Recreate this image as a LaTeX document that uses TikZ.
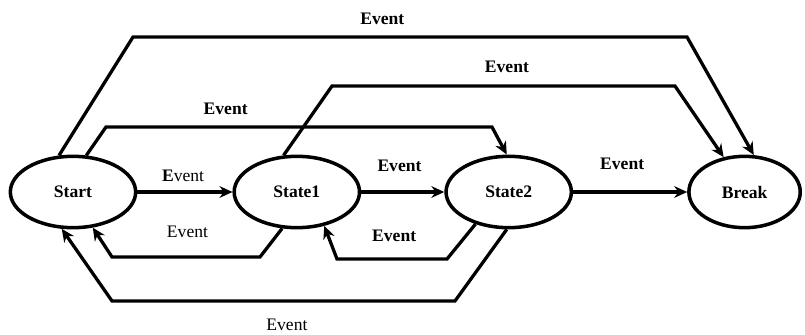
\documentclass[tikz,border=0pt]{standalone}
\usepackage{fontspec}
\setmainfont{Liberation Serif}
\usetikzlibrary{positioning,shapes.geometric,arrows.meta}

\begin{document}
\begin{tikzpicture}[x=0.03cm, y=-0.03cm,
    node distance = 2.85cm,
       arr/.style = {line width=2.8pt, -{Stealth[length=11pt, width=10pt]}},
        st/.style = {ellipse, draw, line width=3pt, inner sep=0pt,
                     minimum width=3.76cm, minimum height=2.14cm,
                     font=\fontsize{15}{18}\selectfont\bfseries},
       lbl/.style = {font=\fontsize{15}{18}\selectfont\bfseries, inner sep=0pt},
      lblr/.style = {font=\fontsize{15}{18}\selectfont, inner sep=0pt},
                    ]
    \useasboundingbox (0,0) rectangle (805,335);
    %% states
    \node[st] (Start) at (73,192) {Start};
    \node[st, right=2.85cm of Start] (S1) {State1};
    \node[st, right=2.49cm of S1] (S2) {State2};
    \node[st, minimum width=3.34cm, right=3.42cm of S2] (Brk) {Break};
    %% arrows (straight)
    \draw[arr] (Start.east) -- node[lblr, above=7.7pt, pos=0.48] (e1) {\textbf{E}vent} (S1.west);
    \draw[arr] (S1.east) -- node[lbl, above=16pt, pos=0.46] (e2) {Event} (S2.west);
    \draw[arr] (S2.east) -- node[lbl, above=18pt, pos=0.43] (e3) {Event} (Brk.west);
    %% arrows (over the top)
    \draw[arr] (Start.111) -- (133,37)
        -- node[lbl, above=9.4pt, pos=0.45] (e4) {Event} (687,37) -- (Brk.76);
    \draw[arr] (S1.110) -- (332,86)
        -- node[lbl, above=10.2pt, pos=0.51] (e5) {Event} (675,86) -- (Brk.121);
    \draw[arr] (Start.70) -- (106,127)
        -- node[lbl, above=9.4pt, pos=0.31] (e6) {Event} (492,127) -- (S2.93);
    %% arrows (back, underneath)
    \draw[arr] (S1.248) -- (260,257)
        -- node[lblr, above=15pt, pos=0.49] (e7) {Event} (112,257) -- (Start.299);
    \draw[arr] (S2.224) -- (447,259)
        -- node[lbl, above=13pt, pos=0.48] (e8) {Event} (337,259) -- (S1.309);
    \draw[arr] (S2.267) -- (455,301)
        -- node[lblr, below=14pt, pos=0.49] (e9) {Event} (112,301) -- (Start.253);
\end{tikzpicture}
\end{document}
